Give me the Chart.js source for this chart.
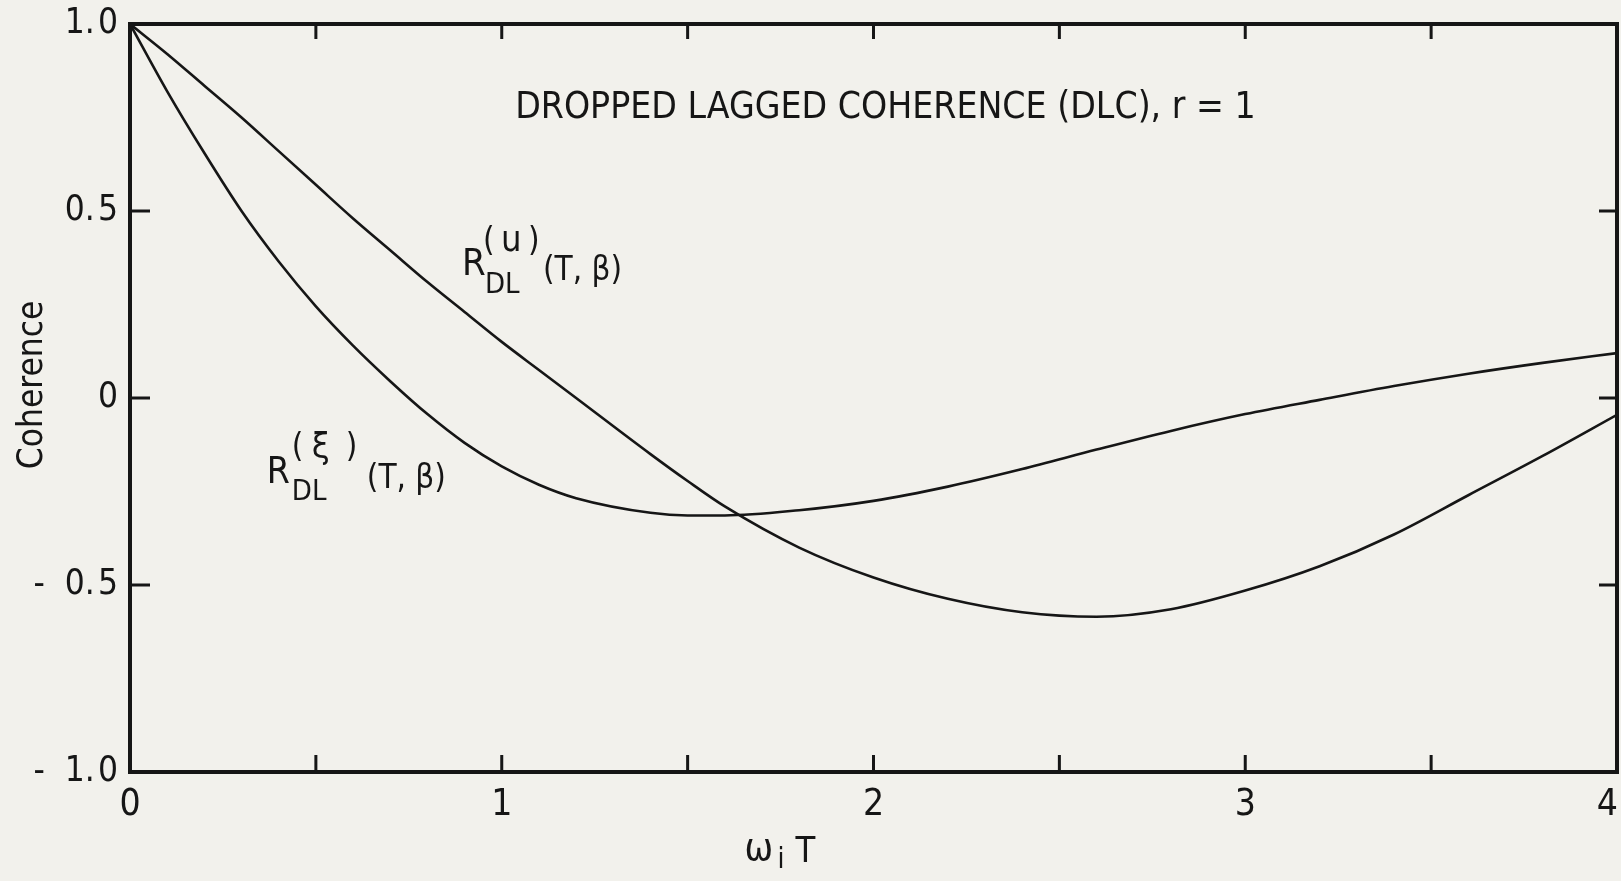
<!DOCTYPE html>
<html>
<head>
<meta charset="utf-8">
<script src="https://cdn.jsdelivr.net/npm/chart.js@4.4.1/dist/chart.umd.min.js"></script>
<style>
  html, body { margin: 0; padding: 0; background: #f2f1ec; }
  #wrap { width: 1621px; height: 881px; }
</style>
</head>
<body>
<div id="wrap"><canvas id="dlc_chart"></canvas></div>
<script>
// omega_i T values where the curves were read
var xValues = [0, 0.1, 0.2, 0.3, 0.4, 0.5, 0.6, 0.7, 0.8, 0.9, 1.0, 1.1, 1.2, 1.4, 1.5, 1.6, 1.8, 2.0, 2.2, 2.4, 2.6, 2.8, 3.0, 3.2, 3.4, 3.6, 3.8, 4.0];
// R_DL^(u)(T, beta)
var uValues = [1.0, 0.92, 0.835, 0.75, 0.66, 0.57, 0.48, 0.395, 0.31, 0.23, 0.15, 0.075, 0.0, -0.15, -0.222, -0.29, -0.40, -0.48, -0.537, -0.573, -0.585, -0.565, -0.515, -0.45, -0.365, -0.26, -0.155, -0.045];
// R_DL^(xi)(T, beta)
var xiValues = [1.0, 0.82, 0.655, 0.50, 0.365, 0.245, 0.14, 0.045, -0.043, -0.12, -0.183, -0.232, -0.268, -0.307, -0.314, -0.314, -0.300, -0.275, -0.237, -0.19, -0.138, -0.088, -0.043, -0.005, 0.032, 0.065, 0.094, 0.12];

var xTickValues = [0, 1, 2, 3, 4];
var xTickLabels = ['0', '1', '2', '3', '4'];
var yTickValues = [1, 0.5, 0, -0.5, -1];
var yTickLabels = ['1.\u200A0', '0.\u200A5', '0', '-  0.\u200A5', '-  1.\u200A0'];

var FONT = '"Liberation Sans Narrow", "DejaVu Sans Condensed", sans-serif';
var INK = '#161616';

function toPoints(xs, ys) {
    return xs.map(function (x, i) { return { x: x, y: ys[i] }; });
}

// pieces: [text, size, dx, dy] relative to (x, y)
function drawPieces(ctx, x, y, pieces) {
    pieces.forEach(function (p) {
        ctx.font = p[1] + 'px ' + FONT;
        ctx.fillText(p[0], x + p[2], y + p[3]);
    });
}

var paperPlugin = {
    id: 'paper',
    beforeDraw: function (chart) {
        var ctx = chart.ctx;
        ctx.save();
        ctx.fillStyle = '#f2f1ec';
        ctx.fillRect(0, 0, chart.width, chart.height);
        ctx.restore();
    },
    afterDraw: function (chart) {
        var ctx = chart.ctx;
        var a = chart.chartArea;
        var xs = chart.scales.x, ys = chart.scales.y;
        ctx.save();
        ctx.strokeStyle = INK;
        ctx.fillStyle = INK;

        // frame
        ctx.lineWidth = 4;
        ctx.strokeRect(a.left, a.top, a.right - a.left, a.bottom - a.top);

        // inward ticks
        ctx.lineWidth = 3;
        ctx.beginPath();
        for (var v = 0.5; v < 4; v += 0.5) {
            var px = xs.getPixelForValue(v);
            ctx.moveTo(px, a.bottom); ctx.lineTo(px, a.bottom - 17);
            ctx.moveTo(px, a.top); ctx.lineTo(px, a.top + 15);
        }
        for (var w = -0.5; w < 1; w += 0.5) {
            var py = ys.getPixelForValue(w);
            ctx.moveTo(a.left, py); ctx.lineTo(a.left + 20, py);
            ctx.moveTo(a.right, py); ctx.lineTo(a.right - 18, py);
        }
        ctx.stroke();

        ctx.textBaseline = 'alphabetic';

        // x tick labels (last one tucked inside the right edge)
        ctx.font = '37px ' + FONT;
        xTickValues.forEach(function (val, i) {
            var last = i === xTickValues.length - 1;
            ctx.textAlign = last ? 'right' : 'center';
            ctx.fillText(xTickLabels[i], last ? a.right + 1 : xs.getPixelForValue(val), a.bottom + 43);
        });

        ctx.textAlign = 'left';

        // title inside the plot
        ctx.font = '37px ' + FONT;
        ctx.fillText('DROPPED LAGGED COHERENCE (DLC), r = 1', xs.getPixelForValue(1.036), ys.getPixelForValue(0.749));

        // curve labels
        var ux = xs.getPixelForValue(0.893), uy = ys.getPixelForValue(0.329);
        drawPieces(ctx, ux, uy, [
            ['R', 38, 0, 0], ['(', 33, 21, -24], ['u', 36, 39, -24], [')', 33, 66, -24],
            ['DL', 29, 23, 18], ['(T, β)', 33, 81, 5]
        ]);

        var qx = xs.getPixelForValue(0.368), qy = ys.getPixelForValue(-0.227);
        drawPieces(ctx, qx, qy, [
            ['R', 37, 0, 0], ['(', 33, 25, -26], ['ξ', 36, 45, -25], [')', 33, 79, -26],
            ['DL', 29, 25, 17], ['(T, β)', 33, 100, 5]
        ]);

        // x axis title: omega_i T
        var tx = xs.getPixelForValue(1.653);
        drawPieces(ctx, tx, 860, [['ω', 38, 0, 0], ['i', 28, 33, 8], ['T', 36, 51, 2]]);

        // y axis title
        ctx.save();
        ctx.translate(42, ys.getPixelForValue(0.035));
        ctx.rotate(-Math.PI / 2);
        ctx.textAlign = 'center';
        ctx.font = '35px ' + FONT;
        ctx.fillText('Coherence', 0, 0);
        ctx.restore();

        ctx.restore();
    }
};

new Chart(document.getElementById('dlc_chart').getContext('2d'), {
    type: 'scatter',
    data: {
        datasets: [{
            label: 'R_DL(u)',
            data: toPoints(xValues, uValues),
            showLine: true,
            borderColor: INK,
            borderWidth: 2.6,
            pointRadius: 0,
            cubicInterpolationMode: 'monotone'
        }, {
            label: 'R_DL(xi)',
            data: toPoints(xValues, xiValues),
            showLine: true,
            borderColor: INK,
            borderWidth: 2.6,
            pointRadius: 0,
            cubicInterpolationMode: 'monotone'
        }]
    },
    options: {
        responsive: true,
        maintainAspectRatio: false,
        animation: false,
        layout: { padding: { top: 24, right: 4, left: 0, bottom: 0 } },
        plugins: { legend: { display: false }, tooltip: { enabled: false } },
        scales: {
            x: {
                type: 'linear',
                min: 0,
                max: 4,
                afterFit: function (s) {
                    s.height = 109;
                    s.paddingLeft = 0;
                    s.paddingRight = 0;
                },
                grid: { display: false, drawTicks: false },
                border: { display: false },
                ticks: { display: false }
            },
            y: {
                type: 'linear',
                min: -1,
                max: 1,
                afterFit: function (s) {
                    s.width = 130;
                    s.paddingTop = 0;
                    s.paddingBottom = 0;
                },
                afterBuildTicks: function (s) {
                    s.ticks = yTickValues.map(function (v) { return { value: v }; });
                },
                grid: { display: false, drawTicks: false },
                border: { display: false },
                ticks: {
                    color: INK,
                    padding: 12,
                    font: { family: FONT, size: 35 },
                    callback: function (v) {
                        var i = yTickValues.indexOf(v);
                        return i < 0 ? '' : yTickLabels[i];
                    }
                }
            }
        }
    },
    plugins: [paperPlugin]
});
</script>
</body>
</html>
